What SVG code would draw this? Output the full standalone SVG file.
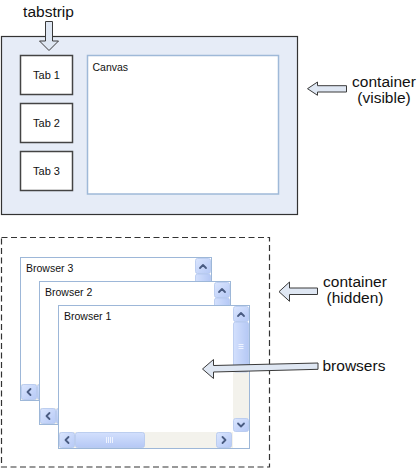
<svg xmlns="http://www.w3.org/2000/svg" xmlns:xlink="http://www.w3.org/1999/xlink" width="418" height="469" viewBox="0 0 418 469">
<style>
.label{font-family:"Liberation Sans",Arial,sans-serif;font-size:15.5px;fill:#111}
.small{font-family:"Liberation Sans",Arial,sans-serif;font-size:10.5px;fill:#111}
.tab{fill:#fff;stroke:#444;stroke-width:1.5}
.arrow{fill:#dfe7f3;stroke:#3a3a3a;stroke-width:1}
.btn{fill:url(#btnGrad);stroke:#b3c6ee;stroke-width:0.8}
.chev{fill:none;stroke:#4a5c82;stroke-width:1.8;stroke-linecap:round;stroke-linejoin:round}
</style>
<defs>
<linearGradient id="btnGrad" x1="0" y1="0" x2="1" y2="1">
<stop offset="0" stop-color="#dbe6fe"/>
<stop offset="1" stop-color="#b6c9f6"/>
</linearGradient>
<linearGradient id="vThumb" x1="0" y1="0" x2="1" y2="0">
<stop offset="0" stop-color="#d3e0fd"/>
<stop offset="1" stop-color="#b5c8f5"/>
</linearGradient>
<linearGradient id="hThumb" x1="0" y1="0" x2="0" y2="1">
<stop offset="0" stop-color="#d3e0fd"/>
<stop offset="1" stop-color="#b5c8f5"/>
</linearGradient>
<g id="browserShape">
<rect x="0.5" y="0.5" width="191" height="143" fill="#fff" stroke="#9db7d8" stroke-width="1"/>
<rect x="175" y="67" width="16" height="47" fill="#f3f2ec"/>
<rect x="1" y="127" width="174" height="16" fill="#f3f2ec"/>
<rect x="175.5" y="1.5" width="15" height="15" rx="2" class="btn"/>
<path d="M180 11 L183 8 L186 11" class="chev"/>
<rect x="175.5" y="17" width="15" height="50" rx="2" fill="url(#vThumb)" stroke="#b3c6ee" stroke-width="0.8"/>
<path d="M180.5 39.5 h5 M180.5 41.5 h5 M180.5 43.5 h5" stroke="#eef3ff" stroke-width="1"/>
<rect x="175.5" y="113.5" width="15" height="13" rx="2" class="btn"/>
<path d="M180 118.5 L183 121.5 L186 118.5" class="chev"/>
<rect x="1.5" y="127.5" width="15" height="15" rx="2" class="btn"/>
<path d="M10.5 132 L7.5 135 L10.5 138" class="chev"/>
<rect x="17.5" y="127.5" width="69" height="15" rx="2" fill="url(#hThumb)" stroke="#b3c6ee" stroke-width="0.8"/>
<path d="M48.5 132 v6 M50.5 132 v6 M52.5 132 v6 M54.5 132 v6" stroke="#eef3ff" stroke-width="1"/>
<rect x="158.5" y="127.5" width="15" height="15" rx="2" class="btn"/>
<path d="M164.5 132 L167.5 135 L164.5 138" class="chev"/>
<rect x="175" y="127" width="16" height="16" fill="#fff"/>
</g>
</defs>
<rect width="418" height="469" fill="#fff"/>

<g id="container-visible">
<rect x="1.5" y="36.5" width="296" height="178" fill="#e6ecf7" stroke="#333" stroke-width="1.2"/>
</g>
<g id="tab1">
<rect x="20.5" y="55.5" width="52" height="39" class="tab"/>
<text x="46.5" y="78.5" text-anchor="middle" class="small" style="font-size:11px">Tab 1</text>
</g>
<g id="tab2">
<rect x="20.5" y="103.5" width="52" height="39" class="tab"/>
<text x="46.5" y="126.5" text-anchor="middle" class="small" style="font-size:11px">Tab 2</text>
</g>
<g id="tab3">
<rect x="20.5" y="151.5" width="52" height="39" class="tab"/>
<text x="46.5" y="174.5" text-anchor="middle" class="small" style="font-size:11px">Tab 3</text>
</g>
<g id="canvas">
<rect x="87.5" y="55.5" width="191" height="138.5" fill="#fff" stroke="#9fb9d8" stroke-width="1.5"/>
<text x="92.5" y="70.5" class="small">Canvas</text>
</g>

<g id="container-hidden">
<rect x="1.5" y="237.5" width="268" height="229.5" fill="none" stroke="#333" stroke-width="1.2" stroke-dasharray="6,3.5"/>
</g>
<g id="browser3">
<use xlink:href="#browserShape" transform="translate(20,257)"/>
<text x="26" y="271.5" class="small">Browser 3</text>
</g>
<g id="browser2">
<use xlink:href="#browserShape" transform="translate(39,281)"/>
<text x="45" y="295.5" class="small">Browser 2</text>
</g>
<g id="browser1">
<use xlink:href="#browserShape" transform="translate(58,305)"/>
<text x="64" y="319.5" class="small">Browser 1</text>
</g>

<g id="label-tabstrip"><text x="48.5" y="17" text-anchor="middle" class="label">tabstrip</text></g>
<g id="label-container-visible">
<text x="384" y="86.5" text-anchor="middle" class="label">container</text>
<text x="384" y="102.5" text-anchor="middle" class="label">(visible)</text>
</g>
<g id="label-container-hidden">
<text x="355" y="286.5" text-anchor="middle" class="label">container</text>
<text x="355" y="302.5" text-anchor="middle" class="label">(hidden)</text>
</g>
<g id="label-browsers"><text x="322.5" y="371" class="label">browsers</text></g>

<g id="connectors">
<polygon class="arrow" points="45.5,21.5 52.5,21.5 52.5,41 58.5,41 49,50.5 39.5,41 45.5,41"/>
<polygon class="arrow" points="307.5,88.7 317.5,82 317.5,85.7 346.5,85.7 346.5,92 317.5,92 317.5,95.3"/>
<polygon class="arrow" points="279,291.7 289.5,282 289.5,288 317.5,288 317.5,294.5 289.5,294.5 289.5,301.3"/>
<polygon class="arrow" points="202.5,369 213.5,359.5 213.5,365.5 318,363 318,369.3 213.5,372 213.5,378.5"/>
</g>
</svg>
